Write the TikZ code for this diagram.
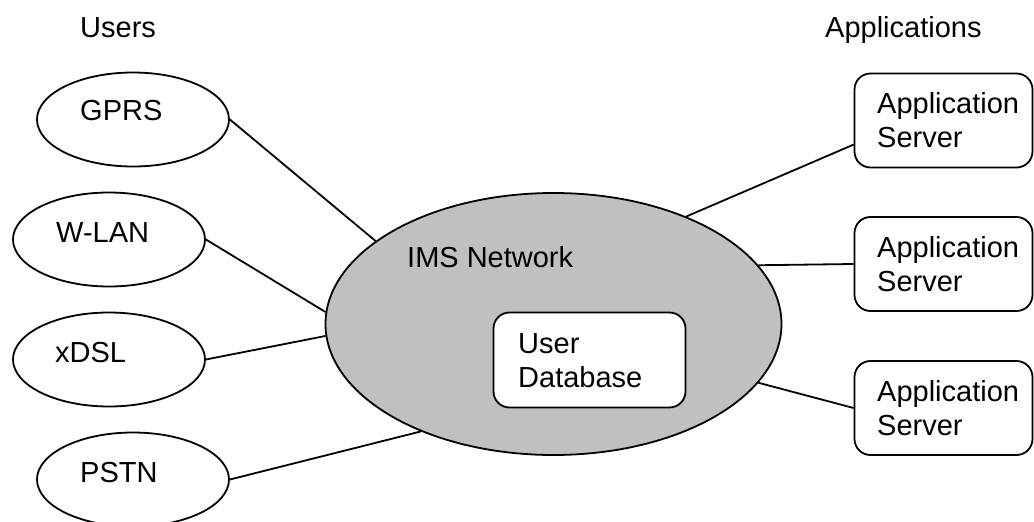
\documentclass[tikz,border=0pt]{standalone}
\usepackage{fontspec}
\setmainfont{Liberation Sans}
\usetikzlibrary{shapes.geometric}
\definecolor{imsgray}{RGB}{192,192,192}
\begin{document}
\begin{tikzpicture}[x=1pt,y=1pt,
  every node/.style={font=\fontsize{29}{34}\selectfont},
  conn/.style={line width=1.8pt},
  userell/.style={ellipse,draw,line width=1.8pt,minimum width=192pt,minimum height=94pt,inner sep=0pt},
  imsell/.style={ellipse,draw,fill=imsgray,line width=1.8pt,minimum width=456pt,minimum height=262pt,inner sep=0pt},
  roundbox/.style={rectangle,draw,fill=white,rounded corners=16pt,line width=1.8pt,inner sep=0pt},
  appbox/.style={roundbox,minimum width=178pt,minimum height=94pt},
  txt/.style={anchor=base west,inner sep=0pt,align=left}
]
\useasboundingbox (0,0) rectangle (1034,-522);

% headings
\node[txt] (users) at (80,-37) {Users};
\node[txt] (apps) at (825,-37) {Applications};

% IMS network
\node[imsell] (ims) at (553.5,-324) {};
\node[txt] (imslabel) at (407,-267) {IMS Network};
\node[roundbox,minimum width=192pt,minimum height=95pt] (udb) at (589.5,-360) {};
\node[txt] (udblabel) at (518,-387) {User\\Database};

% users
\node[userell] (gprs) at (133,-119.5) {};
\node[txt] (gprst) at (80,-120) {GPRS};
\node[userell] (wlan) at (109,-239.5) {};
\node[txt] (wlant) at (56,-242) {W-LAN};
\node[userell] (xdsl) at (109,-359.5) {};
\node[txt] (xdslt) at (55,-362) {xDSL};
\node[userell] (pstn) at (133,-479.5) {};
\node[txt] (pstnt) at (80,-482) {PSTN};

% application servers
\node[appbox] (app1) at (943.5,-120.5) {};
\node[txt] (app1t) at (877,-147) {Application\\Server};
\node[appbox] (app2) at (943.5,-264) {};
\node[txt] (app2t) at (877,-291) {Application\\Server};
\node[appbox] (app3) at (943.5,-408) {};
\node[txt] (app3t) at (877,-435) {Application\\Server};

% connectors
\draw[conn] (gprs.east) -- (ims.155);
\draw[conn] (wlan.east) -- (ims.177);
\draw[conn] (xdsl.east) -- (ims.183);
\draw[conn] (pstn.east) -- (ims.219);
\draw[conn] (ims.39.4) -- (app1.195.5);
\draw[conn] (ims.16.4) -- (app2.west);
\draw[conn] (ims.-16.4) -- (app3.west);
\end{tikzpicture}
\end{document}
